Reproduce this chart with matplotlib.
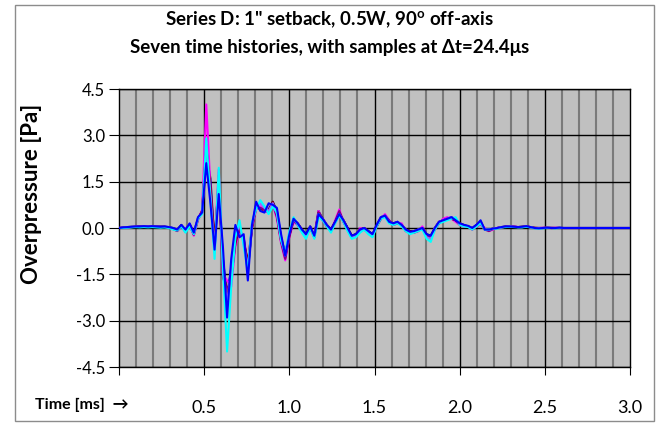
import numpy as np
import matplotlib.pyplot as plt
from matplotlib.patches import Rectangle

# sampling interval [ms]
dt = 0.0244

# seven time histories, overpressure [Pa]
s_navy = [0.00, 0.02, 0.03, 0.04, 0.04, 0.05, 0.05, 0.06, 0.05, 0.05,
          0.05, 0.04, 0.03, 0.00, -0.05, 0.10, -0.08, 0.12, -0.15, 0.30,
          0.50, 2.40, 1.60, -0.50, 1.30, -1.00, -2.20, -1.30, -0.20, -0.10,
          -0.30, -1.40, 0.05, 0.75, 0.65, 0.55, 0.60, 0.85, 0.55, -0.30,
          -0.85, -0.20, 0.30, 0.15, -0.05, -0.20, 0.05, -0.25, 0.55, 0.30,
          0.10, -0.05, 0.20, 0.45, 0.25, 0.00, -0.25, -0.20, -0.05, 0.00,
          -0.10, -0.20, 0.10, 0.35, 0.40, 0.20, 0.15, 0.20, 0.10, -0.05,
          -0.10, -0.10, -0.05, 0.00, -0.20, -0.25, 0.00, 0.20, 0.25, 0.30,
          0.35, 0.25, 0.15, 0.10, 0.05, 0.00, 0.10, 0.20, -0.05, -0.05,
          -0.02, 0.00, 0.03, 0.05, 0.05, 0.04, 0.03, 0.04, 0.05, 0.03,
          0.00, 0.00, 0.00, 0.01, 0.00, 0.00, 0.01, 0.00, 0.00, 0.00,
          0.00, 0.00, 0.00, 0.00, 0.00, 0.00, 0.00, 0.00, 0.00, 0.00,
          0.00, 0.00, 0.00, 0.00]

s_magenta = [0.00, 0.01, 0.02, 0.03, 0.04, 0.04, 0.05, 0.04, 0.05, 0.04,
             0.03, 0.04, 0.02, -0.02, -0.10, 0.05, -0.12, 0.10, -0.25, 0.25,
             0.60, 4.00, 1.30, -0.60, 1.90, -1.50, -1.70, -1.90, -0.60, -0.10,
             -0.30, -1.20, 0.00, 0.60, 0.70, 0.55, 0.50, 0.75, 0.30, -0.50,
             -1.05, -0.30, 0.20, 0.10, -0.10, -0.30, 0.00, -0.30, 0.55, 0.25,
             0.05, -0.10, 0.25, 0.60, 0.20, -0.05, -0.30, -0.25, 0.00, -0.05,
             -0.15, -0.25, 0.05, 0.30, 0.45, 0.25, 0.10, 0.15, 0.15, -0.10,
             -0.15, -0.15, -0.10, 0.05, -0.25, -0.35, -0.05, 0.15, 0.30, 0.35,
             0.30, 0.20, 0.10, 0.05, 0.05, -0.05, 0.05, 0.10, 0.00, -0.10,
             -0.05, 0.00, 0.02, 0.04, 0.05, 0.05, 0.03, 0.03, 0.05, 0.02,
             0.00, 0.00, 0.01, 0.00, 0.00, 0.01, 0.00, 0.00, 0.00, 0.00,
             0.00, 0.00, 0.00, 0.00, 0.00, 0.00, 0.00, 0.00, 0.00, 0.00,
             0.00, 0.00, 0.00, 0.00]

s_maroon = [0.00, 0.01, 0.02, 0.03, 0.04, 0.05, 0.05, 0.05, 0.05, 0.04,
            0.04, 0.04, 0.02, -0.02, -0.08, 0.08, -0.10, 0.12, -0.20, 0.30,
            0.55, 2.60, 1.30, -0.40, 1.50, -1.30, -2.10, -1.60, -0.50, 0.00,
            -0.40, -1.10, 0.00, 0.70, 0.60, 0.60, 0.55, 0.85, 0.40, -0.40,
            -0.95, -0.25, 0.25, 0.15, -0.05, -0.25, 0.05, -0.30, 0.50, 0.30,
            0.10, -0.05, 0.20, 0.50, 0.25, 0.00, -0.25, -0.20, -0.05, 0.00,
            -0.10, -0.25, 0.05, 0.30, 0.40, 0.20, 0.15, 0.15, 0.10, -0.05,
            -0.10, -0.10, -0.05, 0.00, -0.25, -0.30, 0.00, 0.20, 0.25, 0.30,
            0.30, 0.25, 0.15, 0.08, 0.05, 0.00, 0.05, 0.15, -0.05, -0.05,
            -0.02, 0.00, 0.02, 0.04, 0.05, 0.04, 0.03, 0.04, 0.05, 0.03,
            0.01, 0.00, 0.00, 0.01, 0.00, 0.00, 0.00, 0.00, 0.00, 0.00,
            0.00, 0.00, 0.00, 0.00, 0.00, 0.00, 0.00, 0.00, 0.00, 0.00,
            0.00, 0.00, 0.00, 0.00]

s_purple = [0.00, 0.01, 0.02, 0.03, 0.03, 0.04, 0.04, 0.05, 0.04, 0.04,
            0.03, 0.03, 0.02, -0.03, -0.10, 0.06, -0.12, 0.10, -0.22, 0.28,
            0.55, 2.70, 1.00, -0.70, 1.70, -1.60, -2.00, -1.70, -0.40, -0.05,
            -0.35, -1.30, 0.00, 0.65, 0.65, 0.60, 0.50, 0.80, 0.35, -0.45,
            -1.00, -0.25, 0.25, 0.10, -0.10, -0.25, 0.00, -0.30, 0.50, 0.25,
            0.05, -0.10, 0.20, 0.55, 0.20, -0.05, -0.30, -0.25, -0.05, -0.05,
            -0.15, -0.25, 0.05, 0.30, 0.40, 0.25, 0.10, 0.15, 0.10, -0.10,
            -0.15, -0.15, -0.10, 0.00, -0.25, -0.30, -0.05, 0.15, 0.25, 0.30,
            0.30, 0.25, 0.10, 0.05, 0.05, -0.05, 0.05, 0.15, -0.05, -0.10,
            -0.03, 0.00, 0.02, 0.04, 0.05, 0.04, 0.03, 0.03, 0.05, 0.02,
            0.00, 0.00, 0.00, 0.00, 0.01, 0.00, 0.00, 0.00, 0.00, 0.00,
            0.00, 0.00, 0.00, 0.00, 0.00, 0.00, 0.00, 0.00, 0.00, 0.00,
            0.00, 0.00, 0.00, 0.00]

s_lavender = [0.00, 0.01, 0.02, 0.03, 0.04, 0.04, 0.05, 0.05, 0.05, 0.04,
              0.04, 0.03, 0.02, -0.01, -0.06, 0.08, -0.08, 0.12, -0.18, 0.32,
              0.50, 2.50, 1.10, -0.80, 1.80, -1.40, -2.40, -1.40, -0.20, 0.10,
              -0.50, -1.30, 0.10, 0.70, 0.80, 0.65, 0.55, 0.80, 0.45, -0.35,
              -0.90, -0.15, 0.30, 0.15, -0.10, -0.30, 0.05, -0.30, 0.45, 0.30,
              0.10, -0.10, 0.15, 0.45, 0.25, -0.05, -0.30, -0.25, -0.10, 0.00,
              -0.15, -0.25, 0.05, 0.35, 0.40, 0.20, 0.10, 0.20, 0.10, -0.05,
              -0.15, -0.10, -0.05, 0.00, -0.30, -0.35, 0.00, 0.20, 0.25, 0.30,
              0.35, 0.30, 0.10, 0.05, 0.05, 0.00, 0.05, 0.15, -0.05, -0.05,
              -0.02, 0.00, 0.02, 0.04, 0.05, 0.04, 0.03, 0.03, 0.05, 0.02,
              0.00, 0.00, 0.00, 0.01, 0.00, 0.00, 0.00, 0.00, 0.00, 0.00,
              0.00, 0.00, 0.00, 0.00, 0.00, 0.00, 0.00, 0.00, 0.00, 0.00,
              0.00, 0.00, 0.00, 0.00]

s_cyan = [0.00, 0.00, 0.01, 0.02, 0.03, 0.02, 0.03, 0.02, 0.03, 0.02,
          0.01, 0.02, 0.00, -0.05, -0.08, 0.05, -0.15, 0.05, -0.20, 0.30,
          0.45, 2.90, 0.90, -1.00, 1.95, -1.20, -4.00, -1.90, -0.30, 0.25,
          -0.60, -1.40, 0.20, 0.60, 0.90, 0.70, 0.45, 0.70, 0.50, -0.40,
          -0.80, -0.10, 0.35, 0.10, -0.15, -0.35, 0.00, -0.35, 0.35, 0.25,
          0.05, -0.15, 0.15, 0.40, 0.20, -0.10, -0.35, -0.30, -0.15, -0.05,
          -0.20, -0.30, 0.05, 0.30, 0.35, 0.15, 0.10, 0.15, 0.05, -0.10,
          -0.20, -0.15, -0.10, -0.05, -0.35, -0.45, -0.05, 0.15, 0.20, 0.25,
          0.30, 0.35, 0.10, 0.05, 0.03, -0.05, 0.05, 0.15, -0.05, -0.05,
          -0.03, -0.02, 0.02, 0.03, 0.04, 0.03, 0.02, 0.02, 0.04, 0.02,
          -0.01, -0.02, -0.01, 0.00, 0.00, -0.01, 0.00, 0.00, 0.00, 0.00,
          0.00, 0.00, 0.00, 0.00, 0.00, 0.00, 0.00, 0.00, 0.00, 0.00,
          0.00, 0.00, 0.00, 0.00]

s_blue = [0.00, 0.02, 0.03, 0.04, 0.05, 0.05, 0.06, 0.05, 0.06, 0.05,
          0.04, 0.05, 0.03, 0.00, -0.05, 0.10, -0.05, 0.15, -0.15, 0.35,
          0.50, 2.10, 0.80, -0.70, 1.10, -0.60, -2.90, -1.00, 0.10, -0.30,
          -0.20, -1.70, 0.10, 0.85, 0.55, 0.50, 0.80, 0.75, 0.65, -0.20,
          -0.90, -0.20, 0.30, 0.15, -0.05, -0.20, 0.05, -0.25, 0.45, 0.30,
          0.10, -0.05, 0.20, 0.45, 0.25, 0.00, -0.25, -0.20, -0.05, 0.00,
          -0.10, -0.20, 0.10, 0.35, 0.40, 0.20, 0.15, 0.20, 0.10, -0.05,
          -0.12, -0.10, -0.05, 0.00, -0.20, -0.25, 0.00, 0.20, 0.25, 0.30,
          0.35, 0.25, 0.15, 0.10, 0.07, 0.00, 0.10, 0.25, -0.05, -0.05,
          -0.02, 0.00, 0.03, 0.05, 0.05, 0.04, 0.03, 0.04, 0.06, 0.03,
          0.00, -0.01, 0.00, 0.01, 0.00, 0.00, 0.01, 0.00, 0.00, 0.00,
          0.00, 0.00, 0.00, 0.00, 0.00, 0.00, 0.00, 0.00, 0.00, 0.00,
          0.00, 0.00, 0.00, 0.00]

series = [s_navy, s_magenta, s_maroon, s_purple, s_lavender, s_cyan, s_blue]
colores = ['#000080', '#FF00FF', '#800000', '#800080', '#9966FF', '#00FFFF', '#0000FF']

y_ticks = [-4.5, -3.0, -1.5, 0.0, 1.5, 3.0, 4.5]
x_labels = ['0.5', '1.0', '1.5', '2.0', '2.5', '3.0']

plt.rcParams['font.family'] = ['Lato', 'DejaVu Sans']

fig = plt.figure(figsize=(6.6, 4.23), dpi=100)
ax = fig.add_axes([119/660, 1 - 367/423, (630 - 119)/660, (367 - 89)/423])
ax.set_facecolor('#C0C0C0')

# outer chart border
fig.patches.append(Rectangle((15/660, 2/423), (654 - 15)/660, (418 - 2)/423,
                             transform=fig.transFigure, fill=False,
                             edgecolor='#8C8C8C', lw=1.0))

# grid
for xv in np.arange(0.1, 3.0, 0.1):
    if abs(xv / 0.5 - round(xv / 0.5)) < 1e-6:
        ax.axvline(xv, color='black', lw=1.0, zorder=1)
    else:
        ax.axvline(xv, color='#7A7A7A', lw=1.5, zorder=1)
for yv in y_ticks:
    ax.axhline(yv, color='black', lw=1.0, zorder=1)

for s, c in zip(series, colores):
    t = np.arange(len(s)) * dt
    ax.plot(t, s, color=c, lw=1.5, zorder=3)

ax.set_xlim(0, 3.0)
ax.set_ylim(-4.5, 4.5)
ax.set_yticks(y_ticks)
ax.set_yticklabels(['%.1f' % v for v in y_ticks], fontsize=12)
ax.set_xticks([0, 0.5, 1.0, 1.5, 2.0, 2.5, 3.0])
ax.set_xticklabels([''] + x_labels, fontsize=13)
ax.tick_params(axis='x', length=6, pad=18, color='black')
ax.tick_params(axis='y', length=7, pad=3, color='black')
for sp in ax.spines.values():
    sp.set_color('black')
    sp.set_linewidth(1.0)

fig.text(330/660, 1 - 20/423, 'Series D: 1" setback, 0.5W, 90$^{\\mathregular{o}}$ off-axis',
         ha='center', va='center', fontsize=13.5, fontweight='bold')
fig.text(330/660, 1 - 47/423, 'Seven time histories, with samples at \u0394t=24.4\u03bcs',
         ha='center', va='center', fontsize=13.5, fontweight='bold')
fig.text(32/660, 1 - 194/423, 'Overpressure [Pa]', rotation=90,
         ha='center', va='center', fontsize=16, fontweight='bold')
fig.text(35/660, 1 - 405/423, 'Time [ms]  \u2192', ha='left', va='center',
         fontsize=11.5, fontweight='bold')

plt.savefig('out.png', dpi=100)
